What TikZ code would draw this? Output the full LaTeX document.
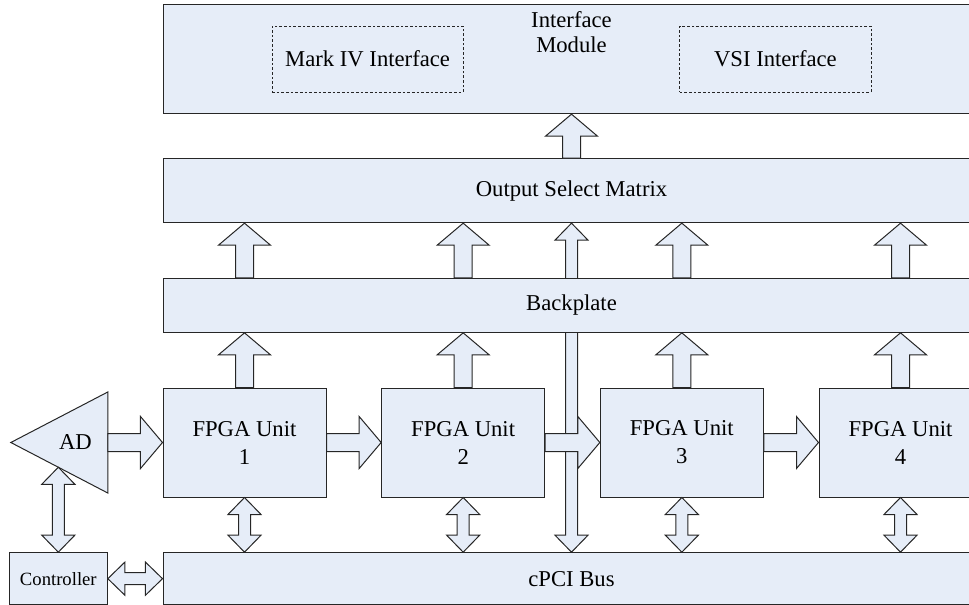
\documentclass[tikz,border=0pt]{standalone}
\usepackage{fontspec}
\setmainfont{Liberation Serif}
\usepackage{tikz}
\usetikzlibrary{positioning,calc,backgrounds}

\definecolor{boxfill}{RGB}{230,237,248}

\tikzset{
	blk/.style={draw=black!85, fill=boxfill, line width=0.75pt},
	box/.style={blk, inner sep=0pt},
	unit/.style={box, minimum width=122.25pt, minimum height=81.75pt, align=center},
	bus/.style={box, minimum width=612.75pt},
	sub/.style={draw=black!85, line width=0.6pt, dash pattern=on 2pt off 1.5pt, minimum width=143.5pt, minimum height=49.5pt},
	% block arrow, args: shaft half width / head half width / head length
	single/.style n args={3}{blk, to path={
		let \p1=(\tikztostart), \p2=(\tikztotarget),
			\n1={veclen(\x2-\x1,\y2-\y1)},
			\p3=({(\x2-\x1)/\n1*1pt},{(\y2-\y1)/\n1*1pt}),
			\p4=({-1*(\y3)},{\x3})
		in ($(\p1)+#1*(\p4)$) -- ($(\p2)-#3*(\p3)+#1*(\p4)$) -- ($(\p2)-#3*(\p3)+#2*(\p4)$)
			-- (\p2) -- ($(\p2)-#3*(\p3)-#2*(\p4)$) -- ($(\p2)-#3*(\p3)-#1*(\p4)$)
			-- ($(\p1)-#1*(\p4)$) -- cycle}},
	double/.style n args={3}{blk, to path={
		let \p1=(\tikztostart), \p2=(\tikztotarget),
			\n1={veclen(\x2-\x1,\y2-\y1)},
			\p3=({(\x2-\x1)/\n1*1pt},{(\y2-\y1)/\n1*1pt}),
			\p4=({-1*(\y3)},{\x3})
		in ($(\p1)+#3*(\p3)+#1*(\p4)$) -- ($(\p2)-#3*(\p3)+#1*(\p4)$) -- ($(\p2)-#3*(\p3)+#2*(\p4)$)
			-- (\p2) -- ($(\p2)-#3*(\p3)-#2*(\p4)$) -- ($(\p2)-#3*(\p3)-#1*(\p4)$)
			-- ($(\p1)+#3*(\p3)-#1*(\p4)$) -- ($(\p1)+#3*(\p3)-#2*(\p4)$)
			-- (\p1) -- ($(\p1)+#3*(\p3)+#2*(\p4)$) -- cycle}},
	fat/.style={single={6.75}{19.5}{16.5}},
	twin/.style={double={4.5}{12.4}{12.75}},
}

\begin{document}
\begin{tikzpicture}[node distance=41pt, font=\fontsize{17pt}{21pt}\selectfont]
			\useasboundingbox (-183.375pt,-121.125pt) rectangle (543.375pt,331.875pt);
			
			\node[unit] (f1) {FPGA Unit\\1};
			\node[unit, right=of f1] (f2) {FPGA Unit\\2};
			\node[unit, right=of f2] (f3) {FPGA Unit\\3};
			\node[unit, right=of f3] (f4) {FPGA Unit\\4};
			
			\node[bus, minimum height=39pt, below=of f1.south west, anchor=north west] (pci) {cPCI Bus};
			\node[bus, minimum height=40.5pt, above=of f1.north west, anchor=south west] (bp) {Backplate};
			\node[bus, minimum height=48pt, above=of bp.north west, anchor=south west] (osm) {Output Select Matrix};
			\node[bus, minimum height=81.75pt, above=33pt of osm.north west, anchor=south west] (im) {};
			\node[below=4pt of im.north, align=center, inner sep=1pt, font=\fontsize{17pt}{19pt}\selectfont] (imtxt) {Interface\\Module};
			\node[sub, right=81.75pt of im.west] (mark) {Mark IV Interface};
			\node[sub, left=81.75pt of im.east] (vsi) {VSI Interface};
			
			\node[box, minimum width=73.5pt, minimum height=39pt, left=of pci, font=\fontsize{14pt}{17pt}\selectfont] (ctrl) {Controller};
			
			% AD converter
			\coordinate[left=of f1.west] (adR);
			\coordinate (adtip) at ([xshift=-72.75pt]adR);
			\coordinate (adtop) at ([yshift=37.9pt]adR);
			\coordinate (adbot) at ([yshift=-37.9pt]adR);
			\draw[blk] (adtip) -- (adtop) -- (adbot) -- cycle;
			\node (ad) at (barycentric cs:adtip=1,adtop=1,adbot=1) {AD};
			
			\begin{scope}[on background layer]
				\draw[twin] (pci.north) to (osm.south);
			\end{scope}
			
			\foreach \i in {1,...,4} {
				\draw[fat] (f\i.north) to (f\i.north |- bp.south);
				\draw[fat] (f\i.north |- bp.north) to (f\i.north |- osm.south);
				\draw[twin] (f\i.south) to (f\i.south |- pci.north);
			}
			\foreach \i/\j in {1/2,2/3,3/4}
				\draw[fat] (f\i.east) to (f\j.west);
			
			\draw[fat] (osm.north) to (im.south);
			\draw[fat] (adR) to (f1.west);
			\draw[twin] (ctrl.east) to (pci.west);
			\draw[twin] (ctrl.north) to (intersection of adtip--adbot and ctrl.north--ctrl.south);
			
\end{tikzpicture}
\end{document}
